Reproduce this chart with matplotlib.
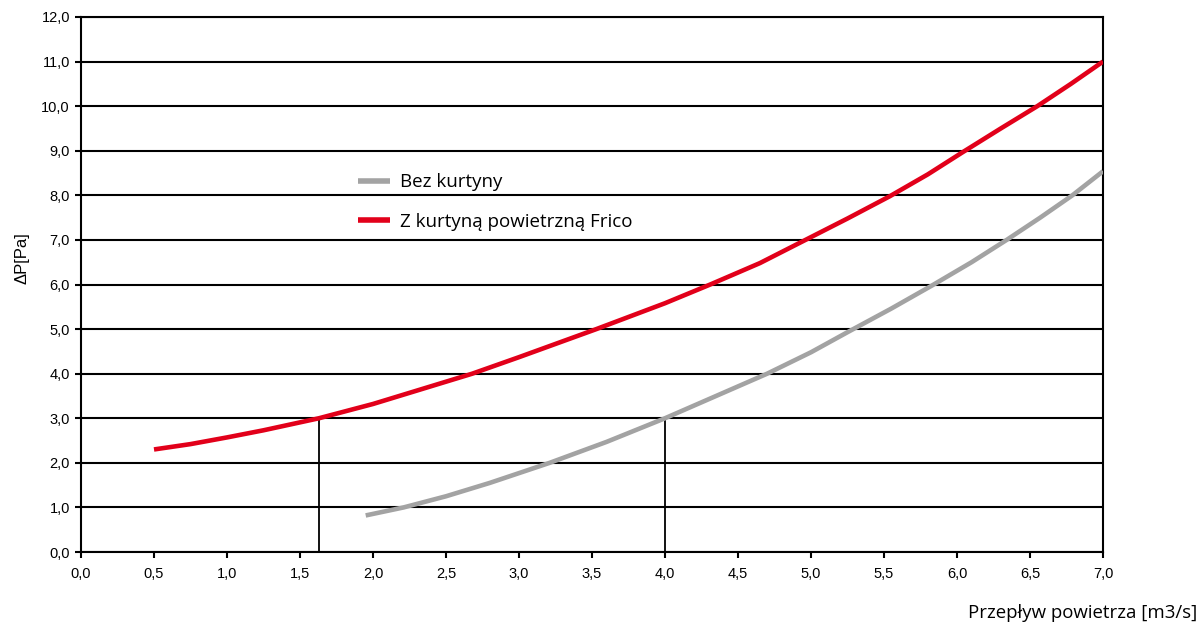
import matplotlib
matplotlib.use('Agg')
import matplotlib.pyplot as plt
import numpy as np

x_bez = [1.95, 2.21, 2.5, 2.8, 3.21, 3.6, 4.0, 4.35, 4.7, 5.0, 5.25, 5.55, 5.83,
         6.1, 6.34, 6.57, 6.79, 7.0]
y_bez = [0.82, 1.0, 1.25, 1.55, 2.0, 2.47, 3.0, 3.5, 4.0, 4.48, 4.93, 5.46, 5.98,
         6.5, 7.0, 7.5, 8.0, 8.54]

x_frico = [0.5, 0.75, 1.0, 1.25, 1.63, 2.0, 2.3, 2.68, 3.0, 3.53, 4.0, 4.31, 4.65,
           4.95, 5.25, 5.54, 5.8, 6.04, 6.3, 6.55, 6.78, 7.0]
y_frico = [2.3, 2.42, 2.57, 2.73, 3.0, 3.32, 3.62, 4.0, 4.37, 5.0, 5.58, 6.0, 6.48,
           6.98, 7.48, 7.98, 8.47, 8.97, 9.5, 10.0, 10.5, 11.0]

# pionowe linie pomocnicze
x_mark = [1.63, 4.0]
y_mark = [3.0, 3.0]

x_ticks = np.arange(0, 7.01, 0.5)
y_ticks = np.arange(0, 12.01, 1.0)

red = '#e2001a'
grey = '#a3a3a3'

plt.rcParams['font.family'] = ['Liberation Sans', 'DejaVu Sans']

fig = plt.figure(figsize=(12.01, 6.26), dpi=100)
ax = fig.add_axes([81/1201, 74/626, 1022/1201, 535/626])

for yv in y_ticks:
    ax.axhline(yv, color='black', lw=1.5, zorder=1)
ax.vlines(x_mark, 0, y_mark, color='black', lw=1.3, zorder=1)

ax.plot(x_bez, y_bez, color=grey, lw=3.3, label='Bez kurtyny', zorder=3,
        solid_capstyle='butt', solid_joinstyle='round')
ax.plot(x_frico, y_frico, color=red, lw=3.3, label='Z kurtyną powietrzną Frico',
        zorder=3, solid_capstyle='butt', solid_joinstyle='round')

ax.set_xlim(0, 7)
ax.set_ylim(0, 12)
ax.set_xticks(x_ticks)
ax.set_yticks(y_ticks)
ax.set_xticklabels([f'{v:.1f}'.replace('.', ',') for v in x_ticks])
ax.set_yticklabels([f'{v:.1f}'.replace('.', ',') for v in y_ticks])
ax.tick_params(length=4, width=1.5, labelsize=10.5, color='black')
ax.tick_params(axis='x', pad=7)
ax.tick_params(axis='y', pad=4)
for s in ax.spines.values():
    s.set_linewidth(1.5)

ax.set_ylabel('ΔP[Pa]', fontsize=12)
ax.yaxis.set_label_coords(-0.05, 0.55)

leg = ax.legend(loc='upper left', bbox_to_anchor=(0.271, 0.708), frameon=False,
                borderpad=0, borderaxespad=0, handlelength=1.7, handletextpad=0.55,
                labelspacing=1.15, prop={'family': 'Open Sans', 'size': 13.5})
for line in leg.get_lines():
    line.set_linewidth(4)

fig.text(1197/1201, 1 - 613/626, 'Przepływ powietrza [m3/s]', ha='right', va='center',
         family='Open Sans', fontsize=13.4)

plt.savefig('out.png', dpi=100)
